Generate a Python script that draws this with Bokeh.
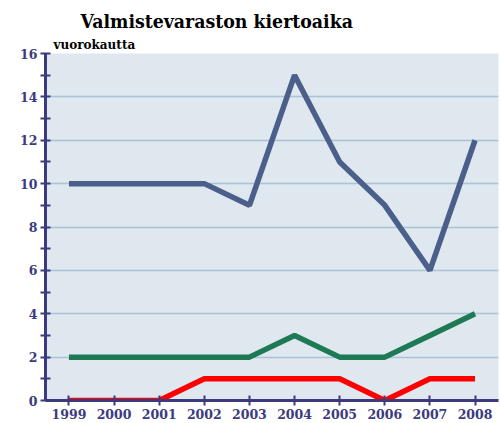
from bokeh.plotting import figure
from bokeh.models import Range1d, FixedTicker, Title
from bokeh.embed import file_html
from bokeh.resources import INLINE

years = [1999, 2000, 2001, 2002, 2003, 2004, 2005, 2006, 2007, 2008]
blue_series = [10, 10, 10, 10, 9, 15, 11, 9, 6, 12]
green_series = [2, 2, 2, 2, 2, 3, 2, 2, 3, 4]
red_series = [0, 0, 0, 1, 1, 1, 1, 0, 1, 1]
y_major = [0, 2, 4, 6, 8, 10, 12, 14, 16]
y_minor = [1, 3, 5, 7, 9, 11, 13, 15]

title_text = "Valmistevaraston kiertoaika"
unit_text = "vuorokautta"

FONT = "DejaVu Serif"
AXC = "#3b3b7d"

p = figure(width=501, height=423, output_backend="svg", toolbar_location=None,
           x_range=Range1d(1998.48, 2008.52), y_range=Range1d(0, 16),
           min_border_left=45, min_border_right=3, min_border_top=53, min_border_bottom=23)
p.title = None
p.outline_line_color = None
p.background_fill_color = "#dfe7ef"
p.border_fill_color = "white"

p.line(years, blue_series, line_color="#4b5f8b", line_width=5.5)
p.line(years, green_series, line_color="#1d7a55", line_width=5.5)
p.line(years, red_series, line_color="#ff0000", line_width=5.5)

p.xgrid.grid_line_color = None
p.ygrid.ticker = FixedTicker(ticks=y_major)
p.ygrid.grid_line_color = "#a9c3d6"
p.ygrid.grid_line_width = 1.5

for ax in (p.xaxis[0], p.yaxis[0]):
    ax.axis_line_color = AXC
    ax.axis_line_width = 3
    ax.major_tick_line_color = AXC
    ax.major_tick_line_width = 2
    ax.minor_tick_line_color = AXC
    ax.minor_tick_line_width = 2
    ax.major_tick_in = 5
    ax.major_tick_out = 5
    ax.major_label_text_font = FONT
    ax.major_label_text_font_style = "bold"
    ax.major_label_text_font_size = "12.5px"
    ax.major_label_text_color = AXC

p.yaxis.ticker = FixedTicker(ticks=y_major, minor_ticks=y_minor)
p.yaxis.minor_tick_in = 5
p.yaxis.minor_tick_out = 5
p.yaxis.major_label_standoff = 3

p.xaxis.ticker = FixedTicker(ticks=years)
p.xaxis.minor_tick_line_color = None
p.xaxis.major_label_standoff = 3

p.add_layout(Title(text=unit_text, align="left", offset=8, text_font=FONT,
                   text_font_style="bold", text_font_size="12px", text_color="black",
                   standoff=4), "above")
p.add_layout(Title(text=title_text, align="left", offset=35, text_font="DejaVu Serif Condensed",
                   text_font_style="bold", text_font_size="19.3px", text_color="black",
                   standoff=2), "above")

open("out.html", "w").write(file_html(p, INLINE))
